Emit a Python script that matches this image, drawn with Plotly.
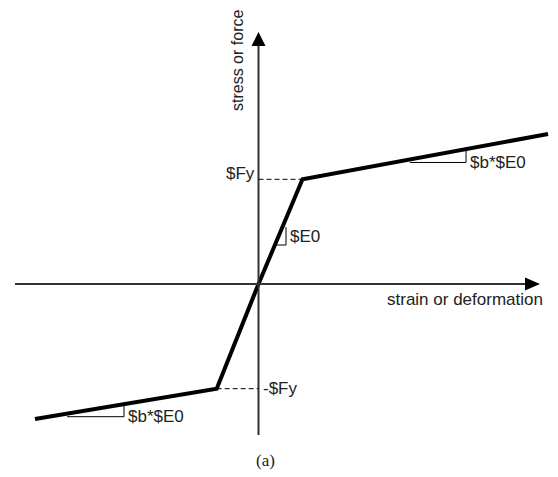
import plotly.graph_objects as go

# Bilinear steel material: strain (normalised by yield strain) vs stress (normalised by Fy)
strain = [-5.08, -0.95, 0.0, 1.0, 6.58]
stress = [-1.29, -1.0, 0.0, 1.0, 1.433]

# Labels drawn on the diagram
fy_label = "$Fy"
neg_fy_label = "-$Fy"
e0_label = "$E0"
hard_label = "$b*$E0"
x_title = "strain or deformation"
y_title = "stress or force"
caption = "(a)"

W, H = 558, 477
# axis scale: pixels per unit
SX, SY = 44.0, 104.7
X0, Y0 = 258.5, 284.0  # pixel location of the origin
x_range = [(0 - X0) / SX, (W - X0) / SX]
y_range = [(Y0 - H) / SY, Y0 / SY]


def dx(p):
    return p / SX


def dy(p):
    return p / SY


def seg_y(xa, i, j):
    """Stress on the segment between points i and j at strain xa."""
    x1, y1, x2, y2 = strain[i], stress[i], strain[j], stress[j]
    return y1 + (y2 - y1) * (xa - x1) / (x2 - x1)


AX = "#333333"
fig = go.Figure()

# Material curve
fig.add_trace(go.Scatter(x=strain, y=stress, mode="lines",
                         line=dict(color="black", width=4),
                         hoverinfo="skip", showlegend=False))

shapes = []
# Axes
x_left, x_tip = dx(15 - X0), dx(540 - X0)
y_bot, y_tip = dy(Y0 - 435), dy(Y0 - 32)
ah_len_x, ah_half_x = dx(15), dy(6.5)
ah_len_y, ah_half_y = dy(14), dx(7)
shapes.append(dict(type="line", x0=x_left, x1=x_tip - ah_len_x, y0=0, y1=0,
                   line=dict(color=AX, width=2)))
shapes.append(dict(type="path",
                   path=f"M {x_tip} 0 L {x_tip - ah_len_x} {ah_half_x} L {x_tip - ah_len_x} {-ah_half_x} Z",
                   fillcolor="black", line=dict(color="black", width=0)))
shapes.append(dict(type="line", x0=0, x1=0, y0=y_bot, y1=y_tip - ah_len_y,
                   line=dict(color=AX, width=2)))
shapes.append(dict(type="path",
                   path=f"M 0 {y_tip} L {ah_half_y} {y_tip - ah_len_y} L {-ah_half_y} {y_tip - ah_len_y} Z",
                   fillcolor="black", line=dict(color="black", width=0)))

# Yield level guides
dash = dict(color="black", width=1, dash="5px,3px")
shapes.append(dict(type="line", x0=0, x1=strain[3], y0=stress[3], y1=stress[3], line=dash))
shapes.append(dict(type="line", x0=strain[1], x1=0, y0=stress[1], y1=stress[1], line=dash))

tri = dict(color="black", width=1)
# Elastic slope marker
ex_a, ex_b = 0.375, 0.625
ey_low, ey_high = 0.3725, 0.544
shapes.append(dict(type="path",
                   path=f"M {ex_a} {ey_low} L {ex_b} {ey_low} L {ex_b} {ey_high}",
                   line=tri))

# Hardening slope markers
off = dy(3)
ua, ub = 3.44, 4.716
shapes.append(dict(type="path",
                   path=f"M {ua} {seg_y(ua, 3, 4) - off} L {ub} {seg_y(ua, 3, 4) - off} L {ub} {seg_y(ub, 3, 4)}",
                   line=tri))
la, lb = -4.35, -3.057
shapes.append(dict(type="path",
                   path=f"M {la} {seg_y(la, 0, 1) - off} L {lb} {seg_y(la, 0, 1) - off} L {lb} {seg_y(lb, 0, 1)}",
                   line=tri))

font = dict(family="Liberation Sans, Arial, sans-serif", size=17, color="#222222")
vfont = dict(family="Liberation Sans, Arial, sans-serif", size=16, color="#222222")
ann = []
ann.append(dict(x=0, y=stress[3], text=fy_label, showarrow=False, xanchor="right",
                yanchor="middle", xshift=-2, yshift=6, font=font))
ann.append(dict(x=0, y=stress[1], text=neg_fy_label, showarrow=False, xanchor="left",
                yanchor="middle", xshift=2, font=font))
ann.append(dict(x=ex_b, y=(ey_low + ey_high) / 2, text=e0_label, showarrow=False,
                xanchor="left", yanchor="middle", xshift=2, font=font))
ann.append(dict(x=ub, y=seg_y(ua, 3, 4) - off, text=hard_label, showarrow=False,
                xanchor="left", yanchor="middle", xshift=2, font=font))
ann.append(dict(x=lb, y=seg_y(la, 0, 1) - off, text=hard_label, showarrow=False,
                xanchor="left", yanchor="middle", xshift=2, font=font))
ann.append(dict(x=dx(465 - X0), y=dy(Y0 - 299), text=x_title, showarrow=False,
                xanchor="center", yanchor="middle", font=font))
ann.append(dict(x=dx(237 - X0), y=dy(Y0 - 61), text=y_title, showarrow=False,
                textangle=-90, xanchor="center", yanchor="middle", font=vfont))
ann.append(dict(x=dx(265 - X0), y=dy(Y0 - 460), text=caption, showarrow=False,
                xanchor="center", yanchor="middle",
                font=dict(family="Liberation Serif, Times New Roman, serif", size=17, color="#222222")))

fig.update_layout(
    width=W, height=H,
    margin=dict(l=0, r=0, t=0, b=0),
    paper_bgcolor="white", plot_bgcolor="white",
    xaxis=dict(range=x_range, visible=False, fixedrange=True),
    yaxis=dict(range=y_range, visible=False, fixedrange=True),
    shapes=shapes, annotations=ann, showlegend=False,
)

fig.write_html("out.html")
